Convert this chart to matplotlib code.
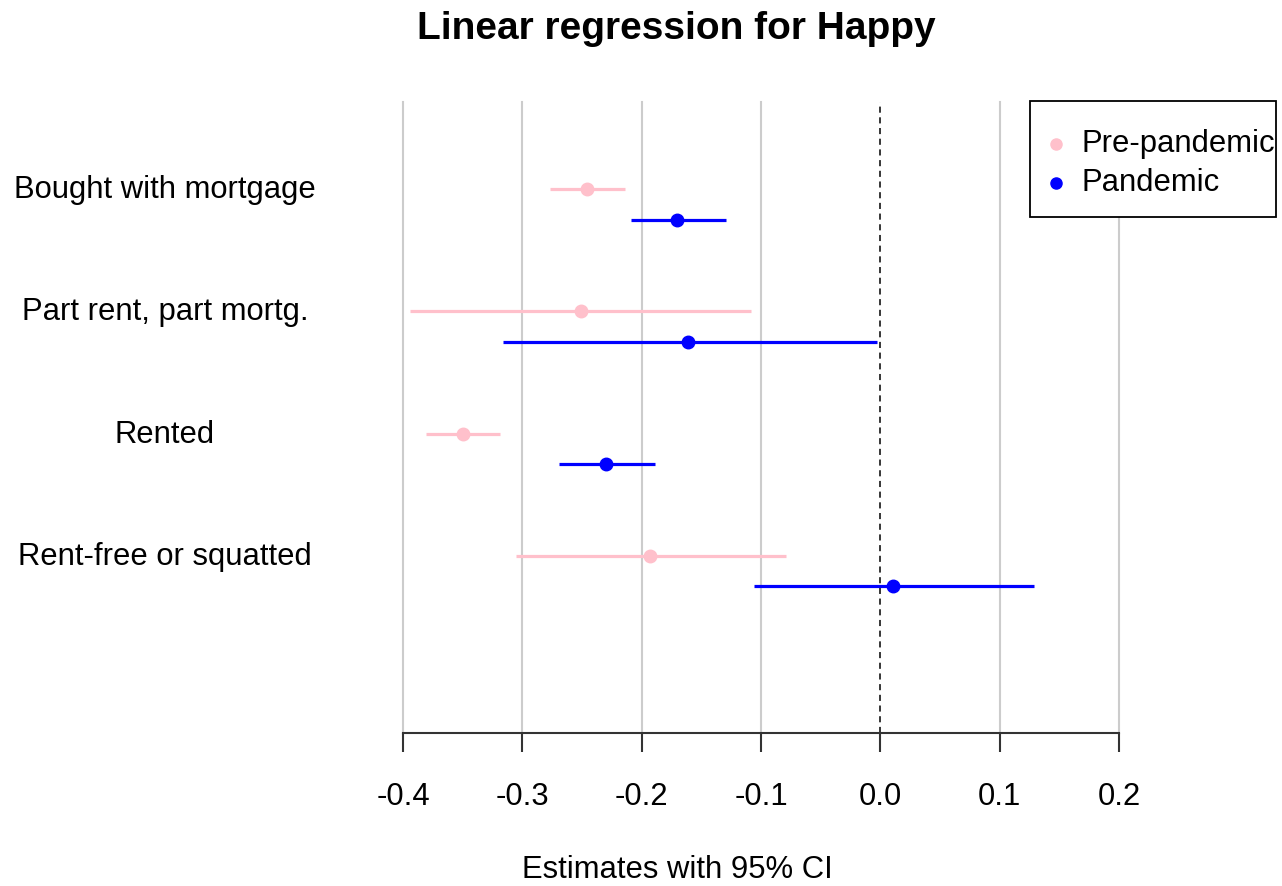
import matplotlib.pyplot as plt
from matplotlib.patches import Rectangle

plt.rcParams['font.family'] = ['Liberation Sans', 'DejaVu Sans']

categories = ["Bought with mortgage", "Part rent, part mortg.", "Rented", "Rent-free or squatted"]
pre_est = [-0.246, -0.251, -0.350, -0.193]
pre_lo = [-0.277, -0.394, -0.381, -0.305]
pre_hi = [-0.214, -0.108, -0.319, -0.079]
pan_est = [-0.170, -0.161, -0.230, 0.011]
pan_lo = [-0.209, -0.316, -0.269, -0.106]
pan_hi = [-0.129, -0.003, -0.189, 0.129]
xticks = [-0.4, -0.3, -0.2, -0.1, 0.0, 0.1, 0.2]
series_names = ["Pre-pandemic", "Pandemic"]

W, H = 1282, 886
fs = 22.3
fig = plt.figure(figsize=(W / 100, H / 100), dpi=100)
ax = fig.add_axes([403 / W, 1 - 733 / H, (1119 - 403) / W, (733 - 102) / H])

# grid
for t in xticks:
    if t == 0:
        ax.axvline(t, color='black', lw=1.1, ls=(0, (4, 3)), zorder=1, clip_on=False)
    else:
        ax.axvline(t, color='#cccccc', lw=1.5, zorder=0, clip_on=False)

pink = '#ffc0cb'
blue = '#0000ff'
off = 0.25
for i in range(len(categories)):
    ax.plot([pre_lo[i], pre_hi[i]], [i, i], color=pink, lw=2.3, solid_capstyle='butt', zorder=2)
    ax.plot(pre_est[i], i, 'o', color=pink, ms=9, zorder=3)
    ax.plot([pan_lo[i], pan_hi[i]], [i + off, i + off], color=blue, lw=2.3, solid_capstyle='butt', zorder=2)
    ax.plot(pan_est[i], i + off, 'o', color=blue, ms=9, zorder=3)
    ax.text((165 - 403) / 716, i + 0.01, categories[i], transform=ax.get_yaxis_transform(),
            ha='center', va='center', fontsize=fs, clip_on=False)

ax.set_xlim(-0.4, 0.2)
ax.set_ylim(4.448, -0.711)
ax.set_yticks([])
for s in ['top', 'right', 'left']:
    ax.spines[s].set_visible(False)
ax.spines['bottom'].set_color('#333333')
ax.spines['bottom'].set_linewidth(1.5)
ax.set_xticks(xticks)
ax.set_xticklabels([f"{t:.1f}" for t in xticks])
ax.tick_params(axis='x', length=14, width=1.5, color='#333333', labelsize=fs, pad=21)

fig.text(677 / W, 1 - 870 / H, "Estimates with 95% CI", ha='center', va='center', fontsize=fs)
fig.text(676 / W, 1 - 29 / H, "Linear regression for Happy", ha='center', va='center',
         fontsize=28, fontweight='bold')

# legend box (text clipped at right edge as in reference)
box = Rectangle((1030 / W, 1 - 217 / H), (1276 - 1030) / W, (217 - 101) / H,
                transform=fig.transFigure, facecolor='white', edgecolor='black', lw=1.3, zorder=5)
fig.add_artist(box)
for k, (name, col) in enumerate(zip(series_names, [pink, blue])):
    yy = 1 - (144 + 39 * k) / H
    fig.add_artist(plt.Line2D([1056 / W], [yy], marker='o', color=col, ms=8,
                              transform=fig.transFigure, zorder=6))
    txt = fig.text(1081 / W, yy, name, ha='left', va='center', fontsize=fs, zorder=6)
    txt.set_clip_path(box)

fig.savefig('out.png', dpi=100)
